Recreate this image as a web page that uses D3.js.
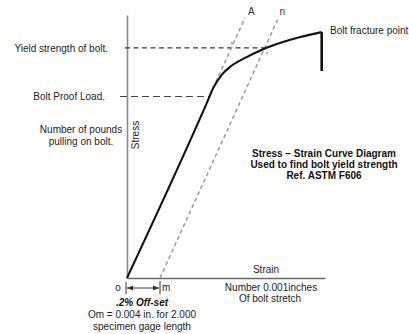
<!DOCTYPE html>
<html>
<head>
<meta charset="utf-8">
<script src="https://cdn.jsdelivr.net/npm/d3@7"></script>
<style>
  html, body { margin: 0; padding: 0; background: #fff; }
  svg { display: block; font-family: "Liberation Sans", Arial, sans-serif; }
</style>
</head>
<body>
<svg id="chart" width="409" height="334"></svg>
<script>
// Strain in units of 0.001 in., stress as percent of full scale
const curvePoints = [[0, 0], [9.6, 66], [10.5, 72.5], [11.5, 77.3], [12.5, 80.3], [14.5, 84], [16.5, 87], [19, 89.8], [21, 91.6], [23.6, 93.5]];
const fracture = [[23.6, 93.5], [23.6, 78.7]];
const lineA = [[10.4, 72], [14.3, 98.9]];        // elastic line extended
const lineN = [[4, 0], [18.35, 98.9]];           // 0.2% offset line
const yieldStress = 87.5;
const yieldStrain = 16.6;
const proofStress = 69;
const proofStrain = 10;
const offsetStrain = 4;

const svg = d3.select("#chart");
const x = d3.scaleLinear().domain([0, 24]).range([127, 325]);
const y = d3.scaleLinear().domain([0, 100]).range([278, 15]);
const line = d3.line().x(d => x(d[0])).y(d => y(d[1]));

// Axes drawn as bare domain lines
svg.append("g").attr("transform", `translate(${x(0)},0)`)
  .call(d3.axisLeft(y).tickValues([]).tickSizeOuter(0))
  .select(".domain").attr("stroke", "#8a8a8a").attr("stroke-width", 1.6);
svg.append("g").attr("transform", `translate(0,${y(0)})`)
  .call(d3.axisBottom(x).tickValues([]).tickSizeOuter(0))
  .select(".domain").attr("stroke", "#6a6a6a").attr("stroke-width", 1.3);

// Reference dashed levels
svg.append("line")
  .attr("x1", x(0) - 2).attr("x2", x(yieldStrain) + 1)
  .attr("y1", y(yieldStress)).attr("y2", y(yieldStress))
  .attr("stroke", "#3a3a3a").attr("stroke-width", 1.1).attr("stroke-dasharray", "5,3.5");
svg.append("line")
  .attr("x1", x(0) - 7).attr("x2", x(proofStrain))
  .attr("y1", y(proofStress)).attr("y2", y(proofStress))
  .attr("stroke", "#444").attr("stroke-width", 1.1).attr("stroke-dasharray", "7,4");

// Offset construction lines
[lineA, lineN].forEach(d => {
  svg.append("path").attr("d", line(d)).attr("fill", "none")
    .attr("stroke", "#9a9a9a").attr("stroke-width", 1.5).attr("stroke-dasharray", "4,3");
});

// Stress-strain curve
svg.append("path").attr("d", d3.line().x(d => x(d[0])).y(d => y(d[1])).curve(d3.curveMonotoneX)(curvePoints))
  .attr("fill", "none").attr("stroke", "#111").attr("stroke-width", 2.1);
svg.append("path").attr("d", line(fracture)).attr("fill", "none")
  .attr("stroke", "#111").attr("stroke-width", 2.6);

// Offset dimension o–m
const dimY = 288;
const dim = svg.append("g").attr("stroke", "#333").attr("stroke-width", 1);
dim.append("line").attr("x1", x(0) - 1).attr("x2", x(0) - 1).attr("y1", dimY - 6).attr("y2", dimY + 6);
dim.append("line").attr("x1", x(offsetStrain)).attr("x2", x(offsetStrain)).attr("y1", dimY - 7).attr("y2", dimY + 6);
dim.append("line").attr("x1", x(0)).attr("x2", x(offsetStrain) - 1).attr("y1", dimY).attr("y2", dimY);
svg.append("path").attr("fill", "#333")
  .attr("d", `M${x(0)},${dimY}l6,-2.5v5z M${x(offsetStrain) - 1},${dimY}l-6,-2.5v5z`);

// Labels
function text(t, tx, ty, opts = {}) {
  return svg.append("text").attr("x", tx).attr("y", ty)
    .attr("font-size", opts.size || 10)
    .attr("font-weight", opts.weight || "normal")
    .attr("font-style", opts.style || "normal")
    .attr("text-anchor", opts.anchor || "start")
    .attr("dominant-baseline", "middle")
    .attr("fill", opts.fill || "#222")
    .attr("letter-spacing", opts.ls || 0)
    .text(t);
}
text("Yield strength of bolt.", 108, y(yieldStress) + 1, { anchor: "end" });
text("Bolt Proof Load.", 105, y(proofStress) + 1, { anchor: "end" });
text("Number of pounds", 81, 130, { anchor: "middle" });
text("pulling on bolt.", 81, 142, { anchor: "middle" });
text("Stress", 0, 0, { anchor: "middle" })
  .attr("transform", "translate(136,135) rotate(-90)");
text("Bolt fracture point", 330, 31);
text("A", x(14.3) + 3, 12, { fill: "#333" });
text("n", x(18.35) + 1, 12, { fill: "#333" });
text("t", x(yieldStrain) - 33, y(yieldStress) - 4, { size: 6, fill: "#555" });
text("r", x(yieldStrain) + 2, y(yieldStress) + 6, { size: 6, fill: "#555" });

text("Stress \u2013 Strain Curve Diagram", 324, 154, { anchor: "middle", weight: "bold", fill: "#111" });
text("Used to find bolt yield strength", 324, 165, { anchor: "middle", weight: "bold", fill: "#111" });
text("Ref. ASTM F606", 324, 176, { anchor: "middle", weight: "bold", fill: "#111" });

text("Strain", 266, 270, { anchor: "middle" });
text("Number 0.001inches", 271, 288, { anchor: "middle" });
text("Of bolt stretch", 270, 299, { anchor: "middle" });

text("o", 118, dimY, { anchor: "middle" });
text("m", x(offsetStrain) + 2, dimY);
text(".2% Off-set", 142, 303, { anchor: "middle", weight: "bold", style: "italic", fill: "#111" });
text("Om = 0.004 in. for 2.000", 142, 315, { anchor: "middle" });
text("specimen gage length", 142, 327, { anchor: "middle" });
</script>
</body>
</html>
